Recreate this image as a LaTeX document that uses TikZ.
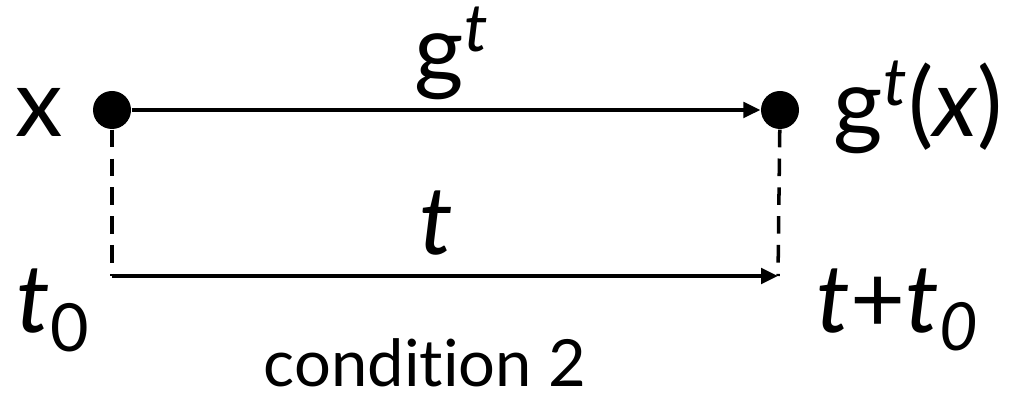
\documentclass[tikz,border=0pt]{standalone}
\usepackage{fontspec}
\setmainfont{Lato}[Ligatures=NoCommon]
\usetikzlibrary{arrows.meta}

\begin{document}
\begin{tikzpicture}[
    >={Triangle[length=4.8pt,width=4.4pt]},
    dot/.style={circle,fill,inner sep=0pt,minimum size=3.8mm},
    term/.style={font=\fontsize{27}{30}\selectfont,inner sep=0pt,anchor=base},
    note/.style={font=\fontsize{18.5}{21}\selectfont,inner sep=0pt,anchor=base},
    flow/.style={line width=1pt},
    guide/.style={line width=1pt,dash pattern=on 5pt off 3.2pt}
  ]
  \useasboundingbox (0,0) rectangle (10.23,3.96);
  \node[dot] (x)  at (1.12,2.86) {};
  \node[dot] (gx) at (7.80,2.86) {};
  \coordinate (t0) at (1.12,1.20);
  \coordinate (t1) at (7.78,1.20);
  \draw[flow,->] (x) -- (gx);
  \draw[guide] (x) -- (t0);
  \draw[guide] (gx) -- (t1);
  \draw[flow,->] (t0) -- (t1);
  % labels
  \node[term] (xl)  at (0.39,2.59) {x};
  \node[term] (gt)  at (4.52,3.13) {g\textsuperscript{\itshape t}};
  \node[term,anchor=base west] (gtx) at (8.33,2.59) {g\textsuperscript{\itshape t}(\textit{x})};
  \node[term] (tm)  at (4.36,1.41) {\textit{t}};
  \node[term,anchor=base west] (tz) at (0.16,0.63) {\textit{t}\textsubscript{0}};
  \node[term,anchor=base west] (tt) at (8.16,0.63) {\textit{t}+\textit{t}\textsubscript{\itshape 0}};
  \node[note] (cond) at (4.25,0.09) {condition 2};
\end{tikzpicture}
\end{document}
